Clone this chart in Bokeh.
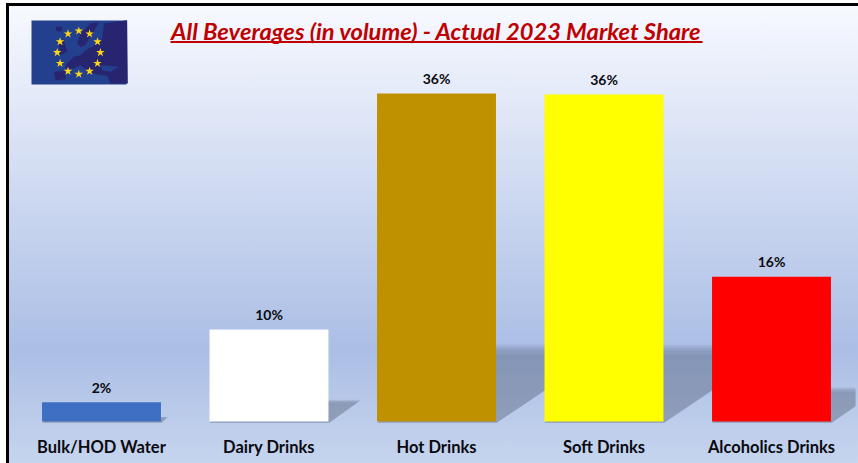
import math
from bokeh.core.properties import value
from bokeh.embed import file_html
from bokeh.models import ColumnDataSource, Range1d, LabelSet, FixedTicker
from bokeh.plotting import figure
from bokeh.resources import INLINE

categories = ["Bulk/HOD Water", "Dairy Drinks", "Hot Drinks", "Soft Drinks", "Alcoholics Drinks"]
shares = [2.1, 10.1, 36.0, 35.9, 15.9]
share_labels = ["2%", "10%", "36%", "36%", "16%"]
colors = ["#3d70c2", "#ffffff", "#bf9000", "#ffff00", "#ff0000"]
title_text = "All Beverages (in volume) - Actual 2023 Market Share"
FONT = "Lato"

bg = ("linear-gradient(#000,#000) 6px 3px/3px 100% no-repeat,"
      "linear-gradient(#000,#000) 6px 3px/100% 3px no-repeat,"
      "linear-gradient(180deg,#f7f9ff 0px,#abbee5 344px,#c6d5ee 457px) 6px 6px/100% 100% no-repeat")

centers = [i + 0.5 for i in range(len(categories))]

p = figure(width=858, height=463, output_backend="svg", toolbar_location=None,
           frame_width=838, frame_height=417,
           x_range=Range1d(-0.0015, 5.0015),
           y_range=Range1d(-0.22, 45.55),
           min_border_left=17, min_border_right=3, min_border_top=6, min_border_bottom=40,
           background_fill_color=None, border_fill_color=None, outline_line_color=None)
p.styles = {"position": "absolute", "left": "0px", "top": "0px", "background": bg}
p.grid.visible = False
p.yaxis.visible = False
ax = p.xaxis[0]
ax.ticker = FixedTicker(ticks=centers)
ax.major_label_overrides = {c: n for c, n in zip(centers, categories)}
ax.axis_line_color = None
ax.major_tick_line_color = None
ax.minor_tick_line_color = None
ax.major_label_text_font = FONT
ax.major_label_text_font_style = "bold"
ax.major_label_text_font_size = "16.5px"
ax.major_label_text_color = "#0a0a10"
ax.major_label_standoff = 7
ax.major_label_orientation = "horizontal"

p.extra_x_ranges = {"px": Range1d(17, 855)}
p.extra_y_ranges = {"py": Range1d(423, 6)}

# perspective shadows, derived from the bar values
BAR_W = 0.71
for frac in (1.0, 0.975, 0.95, 0.92, 0.87):
    xs, ys = [], []
    for c, v in zip(centers, shares):
        x0, x1 = c - BAR_W / 2, c + BAR_W / 2
        h = v * 0.235 * frac
        s = h * 0.0825
        xs.append([x0, x1 + 0.004, x1 + s, x0 + s])
        ys.append([-0.15, -0.15, h, h])
    p.patches(xs, ys, fill_color="#44506a", fill_alpha=0.085, line_color=None)

src = ColumnDataSource(dict(x=centers, val=shares, col=colors, lab=share_labels))
p.vbar(x="x", top="val", bottom=0, width=BAR_W, fill_color="col", line_color=None, source=src)
p.add_layout(LabelSet(x="x", y="val", text="lab", source=src, text_align="center", text_baseline="middle",
                      y_offset=15, text_font=value(FONT), text_font_style="bold", text_font_size="14px",
                      text_color="#0a0a10"))

# title and underline
p.text([436], [30.5], text=[title_text], x_range_name="px", y_range_name="py",
       text_align="center", text_baseline="middle", text_font=value(FONT), text_font_style="bold italic",
       text_font_size="23.7px", text_color="#c00000")
p.line([170, 702], [41.5, 41.5], x_range_name="px", y_range_name="py", line_color="#c00000", line_width=2)

# flag
p.quad(left=[31], right=[126], top=[20], bottom=[84], x_range_name="px", y_range_name="py",
       fill_color="#23408f", line_color=None)
def fz(points):
    return [30 + a / 3 for a, _ in points], [18 + b / 3 for _, b in points]
shapes = [
    [(105,140),(130,115),(150,110),(165,95),(185,85),(215,60),(220,15),(290,5),(292,195),(240,195),(230,172),
     (200,168),(190,165),(170,155),(150,140),(130,150),(105,150)],
    [(140,75),(150,45),(180,15),(205,10),(190,40),(175,60),(165,80),(150,85)],
    [(85,75),(100,65),(110,100),(90,110)],
    [(70,160),(105,155),(105,182),(75,186)],
    [(75,25),(95,25),(95,38),(78,38)],
]
for s in shapes:
    xx, yy = fz(s)
    p.patch(xx, yy, x_range_name="px", y_range_name="py", fill_color="#27256f", line_color=None)
lx, ly = fz([(210,140),(265,145),(240,160),(215,155)])
p.patch(lx, ly, x_range_name="px", y_range_name="py", fill_color="#23408f", line_color=None)
sx = [78.3 + 21.6 * math.sin(math.radians(a)) for a in range(0, 360, 30)]
sy = [52.0 - 21.6 * math.cos(math.radians(a)) for a in range(0, 360, 30)]
p.scatter(sx, sy, marker="star", size=9, x_range_name="px", y_range_name="py",
          fill_color="#ffd617", line_color=None)

open("out.html", "w").write(file_html(p, INLINE))
